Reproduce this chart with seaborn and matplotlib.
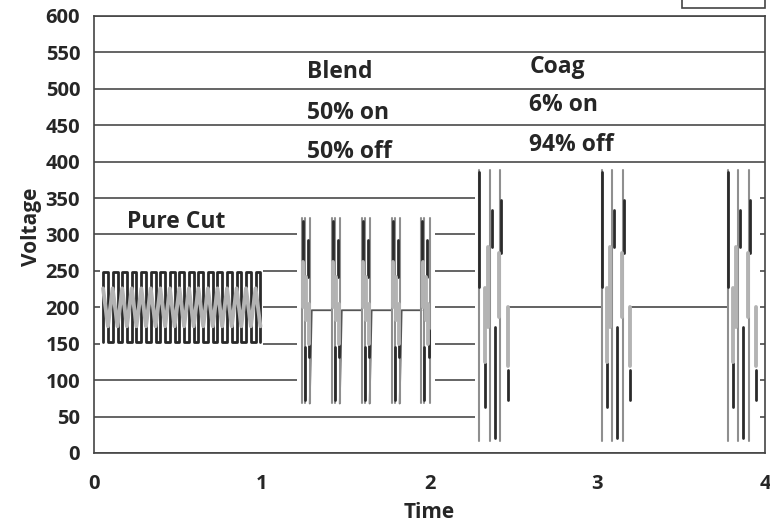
import pandas as pd
import matplotlib.pyplot as plt
import seaborn as sns
from matplotlib.patches import Rectangle

# ---- values ----
x_ticks = [0, 1, 2, 3, 4]
y_ticks = [0, 50, 100, 150, 200, 250, 300, 350, 400, 450, 500, 550, 600]

# Pure Cut: continuous waveform, positions of the vertical strokes (Time)
cut_x = [0.054, 0.083, 0.111, 0.140, 0.168, 0.196, 0.225, 0.253, 0.282, 0.310,
         0.338, 0.367, 0.395, 0.424, 0.452, 0.480, 0.509, 0.537, 0.566, 0.594,
         0.622, 0.651, 0.679, 0.708, 0.736, 0.764, 0.793, 0.821, 0.850, 0.878,
         0.906, 0.935, 0.963, 0.992]
cut_levels = [152, 248]
cut_light_levels = [226, 174]

# Blend: 5 bursts, idle at ~196 V between them
blend_starts = [1.238, 1.417, 1.595, 1.774, 1.952]
blend_range = [68, 322]
blend_idle = 196
blend_outline_dx = [0.000, 0.018, 0.048]
blend_dark_dx = [0.036, 0.018, 0.045, 0.006]
blend_dark_y0 = [292, 146, 169, 318]
blend_dark_y1 = [242, 73, 132, 262]
blend_light_dx = [0.026, 0.042, 0.010]
blend_light_y0 = [242, 205, 262]
blend_light_y1 = [183, 150, 200]
blend_end_dx = 0.060

# Coag: 3 short bursts, idle at 200 V
coag_starts = [2.298, 3.030, 3.780]
coag_range = [16, 388]
coag_idle = 200
coag_outline_dx = [0.000, 0.060, 0.125]
coag_dark_dx = [0.000, 0.030, 0.072, 0.090, 0.131, 0.167]
coag_dark_y0 = [386, 124, 334, 173, 347, 114]
coag_dark_y1 = [228, 63, 283, 20, 274, 73]
coag_light_dx = [0.030, 0.048, 0.119, 0.167]
coag_light_y0 = [227, 283, 274, 200]
coag_light_y1 = [125, 173, 187, 120]
coag_end_dx = 0.167

# ---- build long-form table of line segments ----
rows = []
seg_id = [0]


def add(kind, xs, ys):
    for x, y in zip(xs, ys):
        rows.append({"Time": x, "Voltage": y, "seg": seg_id[0], "kind": kind})
    seg_id[0] += 1


# pure cut
dark_x, dark_y, light_y = [], [], []
for i, x in enumerate(cut_x):
    a, b = cut_levels if i % 2 == 0 else cut_levels[::-1]
    dark_x += [x, x]
    dark_y += [a, b]
    light_y.append(cut_light_levels[i % 2])
add("dark", dark_x, dark_y)
add("light", cut_x, light_y)

# blend
for k, s in enumerate(blend_starts):
    for dx in blend_outline_dx:
        add("outline", [s + dx, s + dx], blend_range)
    for dx, y0, y1 in zip(blend_light_dx, blend_light_y0, blend_light_y1):
        add("light", [s + dx, s + dx], [y0, y1])
    for dx, y0, y1 in zip(blend_dark_dx, blend_dark_y0, blend_dark_y1):
        add("dark", [s + dx, s + dx], [y0, y1])
    if k + 1 < len(blend_starts):
        add("idle", [s + blend_outline_dx[-1], s + blend_end_dx, blend_starts[k + 1]],
            [blend_range[0], blend_idle, blend_idle])

# coag
for k, s in enumerate(coag_starts):
    for dx in coag_outline_dx:
        add("outline", [s + dx, s + dx], coag_range)
    for dx, y0, y1 in zip(coag_light_dx, coag_light_y0, coag_light_y1):
        add("light", [s + dx, s + dx], [y0, y1])
    for dx, y0, y1 in zip(coag_dark_dx, coag_dark_y0, coag_dark_y1):
        add("dark", [s + dx, s + dx], [y0, y1])
    if k + 1 < len(coag_starts):
        add("idle", [s + coag_end_dx, coag_starts[k + 1]], [coag_idle, coag_idle])

df = pd.DataFrame(rows)

# ---- plot ----
sns.set_theme(style="white")
plt.rcParams["font.family"] = ["Open Sans", "DejaVu Sans"]

fig = plt.figure(figsize=(7.7, 5.24), dpi=100)
ax = fig.add_axes([0.1221, 0.1355, 0.8714, 0.834])

# white panels behind each waveform (they hide the grid)
for part, pad_x, pad_y in [(df[df.Time < 1.1], 0.018, 8),
                           (df[(df.Time > 1.1) & (df.Time < 2.2)], 0.03, 8),
                           (df[df.Time > 2.2], 0.025, 8)]:
    x0, x1 = part.Time.min() - pad_x, part.Time.max() + pad_x
    y0, y1 = part.Voltage.min() - pad_y, part.Voltage.max() + pad_y
    ax.add_patch(Rectangle((x0, y0), x1 - x0, y1 - y0, facecolor="white",
                           edgecolor="none", zorder=1))

styles = [("idle", "#555555", 1.3, 2), ("outline", "#8f8f8f", 1.5, 2),
          ("dark", "#2a2a2a", 2.0, 3), ("light", "#b3b3b3", 2.8, 4)]
for kind, col, lw, z in styles:
    sns.lineplot(data=df[df.kind == kind], x="Time", y="Voltage", units="seg",
                 estimator=None, sort=False, color=col, lw=lw, ax=ax, zorder=z)

ax.set_xlim(0, 4)
ax.set_ylim(0, 600)
ax.set_xticks(x_ticks)
ax.set_yticks(y_ticks)
ax.set_axisbelow(True)
ax.yaxis.grid(True, color="#4a4a4a", lw=1.2)
ax.xaxis.grid(False)
for sp in ax.spines.values():
    sp.set_color("#444444")
    sp.set_linewidth(1.2)
ax.tick_params(axis="y", direction="out", length=6, width=1, color="#444444",
               labelsize=14.5, pad=4)
ax.tick_params(axis="x", direction="in", length=5, width=1, color="#444444",
               labelsize=14.5, pad=15)
for lab in ax.get_xticklabels() + ax.get_yticklabels():
    lab.set_fontweight("bold")
ax.set_xlabel("Time", fontsize=15, fontweight="bold", labelpad=6)
ax.set_ylabel("Voltage", fontsize=15, fontweight="bold")
ax.yaxis.set_label_coords(-0.078, 0.517)

# mode annotations
ann = dict(fontsize=16.5, fontweight="bold", va="center")
ax.text(0.196, 317, "Pure Cut", **ann)
for t, y in zip(["Blend", "50% on", "50% off"], [523, 467, 413]):
    ax.text(1.268, y, t, **ann)
for t, y in zip(["Coag", "6% on", "94% off"], [530, 478, 423]):
    ax.text(2.595, y, t, **ann)

# cropped box at the top right corner
fig.patches.append(Rectangle((682 / 770, 1 - 8 / 524), 83 / 770, 0.05,
                             transform=fig.transFigure, facecolor="white",
                             edgecolor="#444444", lw=1.2))

fig.savefig("out.png", dpi=100)
